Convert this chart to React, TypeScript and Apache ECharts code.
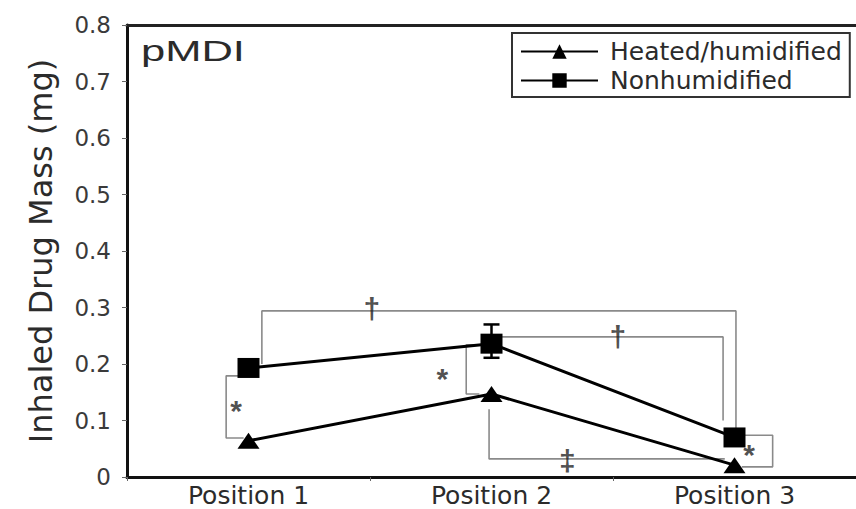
import React, { useEffect, useRef } from "react";
import * as echarts from "echarts";

const categories = ["Position 1", "Position 2", "Position 3"];
const yTicks = [0, 0.1, 0.2, 0.3, 0.4, 0.5, 0.6, 0.7, 0.8];
const heatedName = "Heated/humidified";
const nonhumName = "Nonhumidified";
const heated = [0.064, 0.147, 0.021];
const nonhum = [0.193, 0.236, 0.07];
// [position index, low, high]
const nonhumError = [[1, 0.211, 0.27]];

// significance brackets, in [position (fractional), value]
const bracketTop = [[0.055, 0.2], [0.055, 0.294], [2.006, 0.294], [2.006, 0.086]];
const bracketP1 = [[-0.02, 0.179], [-0.092, 0.179], [-0.092, 0.069], [-0.02, 0.069]];
const bracketP2 = [[0.95, 0.234], [0.896, 0.234], [0.896, 0.147], [0.95, 0.147]];
const bracketP2P3Upper = [[1.04, 0.248], [1.953, 0.248], [1.953, 0.1]];
const bracketP2P3Lower = [[0.99, 0.12], [0.99, 0.032], [1.96, 0.032]];
const bracketP3 = [[2.03, 0.074], [2.157, 0.074], [2.157, 0.018], [2.03, 0.018]];
const brackets = [bracketTop, bracketP1, bracketP2, bracketP2P3Upper, bracketP2P3Lower, bracketP3];

// [position, value, symbol]
const marks = [
  [0.508, 0.298, "\u2020"],
  [1.52, 0.248, "\u2020"],
  [1.312, 0.03, "\u2021"],
  [-0.051, 0.118, "*"],
  [0.798, 0.175, "*"],
  [2.06, 0.04, "*"],
];

const FONT = "DejaVu Sans";
const TXT = "#2b2b2b";

export default function App() {
  const ref = useRef<HTMLDivElement>(null);
  useEffect(() => {
    if (!ref.current) return;
    const chart = echarts.init(ref.current, null, { renderer: "svg" });
    const bracketSeries = brackets.map((b) => ({
      type: "line",
      xAxisIndex: 1,
      data: b,
      symbol: "none",
      silent: true,
      lineStyle: { color: "#8a8a8a", width: 1.6 },
      z: 1,
    }));
    chart.setOption({
      animation: false,
      grid: { left: 127, top: 25, width: 737, height: 452 },
      graphic: [
        {
          type: "text",
          x: 141,
          y: 36,
          scaleX: 1.45,
          style: { text: "pMDI", font: '30px "Liberation Sans"', fill: TXT, verticalAlign: "top" },
        },
      ],
      legend: {
        data: [heatedName, nonhumName],
        orient: "vertical",
        left: 512,
        top: 33,
        padding: [4, 8, 2, 8],
        itemGap: 0,
        itemWidth: 77,
        itemHeight: 18,
        borderColor: "#333",
        borderWidth: 2,
        borderRadius: 0,
        textStyle: {
          fontFamily: FONT,
          fontSize: 25,
          color: TXT,
          lineHeight: 29,
          padding: [0, 0, 0, 7],
        },
      },
      xAxis: [
        {
          type: "category",
          data: categories,
          position: "bottom",
          boundaryGap: true,
          axisLine: { lineStyle: { color: "#111", width: 3 } },
          axisTick: { show: true, length: 4, lineStyle: { color: "#666", width: 1 } },
          axisLabel: { fontFamily: FONT, fontSize: 25, color: TXT, margin: 6 },
          splitLine: { show: false },
        },
        {
          type: "value",
          min: -0.5,
          max: 2.5,
          position: "top",
          axisLine: { show: true, onZero: false, lineStyle: { color: "#222", width: 3 } },
          axisTick: { show: false },
          axisLabel: { show: false },
          splitLine: { show: false },
        },
      ],
      yAxis: {
        type: "value",
        min: yTicks[0],
        max: yTicks[yTicks.length - 1],
        interval: 0.1,
        name: "Inhaled Drug Mass (mg)",
        nameLocation: "middle",
        nameRotate: 90,
        nameGap: 70,
        nameTextStyle: { fontFamily: FONT, fontSize: 32, color: TXT },
        axisLine: { show: true, onZero: false, lineStyle: { color: "#111", width: 3 } },
        axisTick: { show: true, length: 5, lineStyle: { color: "#666", width: 1 } },
        axisLabel: {
          fontFamily: FONT,
          fontSize: 23,
          color: "#3a3a3a",
          margin: 16,
          formatter: (v: number) => (Math.abs(v) < 1e-9 ? "0" : v.toFixed(1)),
        },
        splitLine: { show: false },
      },
      series: [
        ...bracketSeries,
        {
          name: heatedName,
          type: "line",
          xAxisIndex: 1,
          data: heated.map((v, i) => [i, v]),
          symbol: "triangle",
          symbolSize: [22, 16],
          itemStyle: { color: "#000" },
          lineStyle: { color: "#000", width: 3 },
          z: 3,
        },
        {
          name: nonhumName,
          type: "line",
          xAxisIndex: 1,
          data: nonhum.map((v, i) => [i, v]),
          symbol: "rect",
          symbolSize: [22, 20],
          itemStyle: { color: "#000" },
          lineStyle: { color: "#000", width: 3 },
          z: 3,
        },
        {
          type: "custom",
          xAxisIndex: 1,
          data: nonhumError,
          z: 4,
          renderItem: (params: any, api: any) => {
            const x = api.value(0);
            const lo = api.coord([x, api.value(1)]);
            const hi = api.coord([x, api.value(2)]);
            const w = 8;
            const st = { stroke: "#000", lineWidth: 2.5 };
            return {
              type: "group",
              children: [
                { type: "line", shape: { x1: lo[0], y1: lo[1], x2: hi[0], y2: hi[1] }, style: st },
                { type: "line", shape: { x1: lo[0] - w, y1: lo[1], x2: lo[0] + w, y2: lo[1] }, style: st },
                { type: "line", shape: { x1: hi[0] - w, y1: hi[1], x2: hi[0] + w, y2: hi[1] }, style: st },
              ],
            };
          },
        },
        {
          type: "scatter",
          xAxisIndex: 1,
          data: marks,
          symbolSize: 1,
          itemStyle: { color: "rgba(0,0,0,0)" },
          silent: true,
          z: 5,
          label: {
            show: true,
            position: "inside",
            formatter: (p: any) => p.value[2],
            fontFamily: "Liberation Sans",
            fontWeight: "bold",
            fontSize: 30,
            color: "#222",
          },
        },
      ],
    });
    return () => chart.dispose();
  }, []);
  return (
    <div
      ref={ref}
      style={{ position: "fixed", left: 0, top: 0, width: 856, height: 509, background: "#fff" }}
    />
  );
}
